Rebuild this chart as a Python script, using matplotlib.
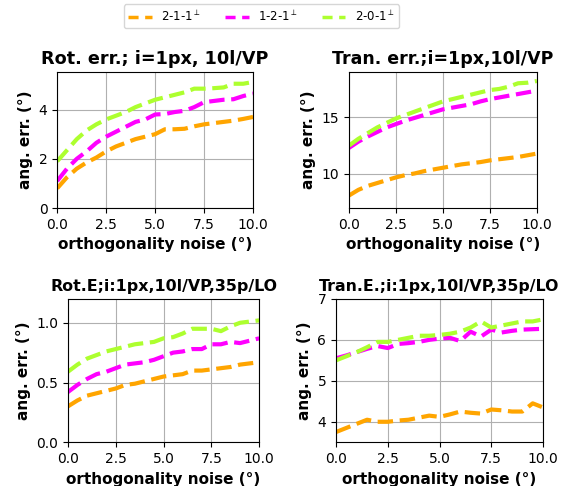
import numpy as np
import matplotlib.pyplot as plt

# orthogonality noise levels (deg)
noise = np.arange(0, 10.01, 0.5)

labels = [r'2-1-1$^\perp$', r'1-2-1$^\perp$', r'2-0-1$^\perp$']
colors = ['orange', 'magenta', 'greenyellow']

# Rot. err.; i=1px, 10l/VP
rot_211 = [0.80, 1.25, 1.60, 1.85, 2.05, 2.30, 2.50, 2.65, 2.80, 2.90, 3.00,
           3.20, 3.20, 3.22, 3.32, 3.40, 3.45, 3.50, 3.55, 3.62, 3.70]
rot_121 = [1.10, 1.60, 2.00, 2.30, 2.65, 2.90, 3.10, 3.30, 3.50, 3.60, 3.80,
           3.82, 3.90, 3.95, 4.10, 4.30, 4.35, 4.40, 4.42, 4.55, 4.65]
rot_201 = [1.90, 2.35, 2.80, 3.15, 3.40, 3.60, 3.75, 3.90, 4.10, 4.25, 4.40,
           4.50, 4.60, 4.70, 4.85, 4.85, 4.87, 4.90, 5.05, 5.05, 5.12]

# Tran. err.;i=1px,10l/VP
tran_211 = [8.10, 8.60, 8.95, 9.20, 9.45, 9.70, 9.90, 10.05, 10.25, 10.40, 10.55,
            10.70, 10.85, 10.95, 11.05, 11.20, 11.30, 11.40, 11.50, 11.65, 11.80]
tran_121 = [12.30, 12.85, 13.30, 13.70, 14.10, 14.40, 14.70, 14.95, 15.20, 15.45, 15.70,
            15.85, 16.00, 16.15, 16.40, 16.60, 16.75, 16.90, 17.05, 17.20, 17.35]
tran_201 = [12.50, 13.10, 13.60, 14.10, 14.50, 14.90, 15.20, 15.50, 15.80, 16.10, 16.40,
            16.60, 16.80, 17.00, 17.20, 17.40, 17.50, 17.70, 18.00, 18.05, 18.20]

# Rot.E;i:1px,10l/VP,35p/LO
rot2_211 = [0.30, 0.35, 0.39, 0.41, 0.43, 0.45, 0.48, 0.49, 0.51, 0.53, 0.55,
            0.56, 0.57, 0.60, 0.60, 0.61, 0.62, 0.63, 0.65, 0.66, 0.67]
rot2_121 = [0.42, 0.48, 0.53, 0.57, 0.59, 0.62, 0.65, 0.66, 0.67, 0.69, 0.72,
            0.75, 0.76, 0.78, 0.78, 0.82, 0.82, 0.84, 0.83, 0.85, 0.87]
rot2_201 = [0.59, 0.65, 0.70, 0.73, 0.76, 0.78, 0.80, 0.82, 0.83, 0.84, 0.87,
            0.88, 0.91, 0.95, 0.95, 0.95, 0.93, 0.97, 1.00, 1.01, 1.02]

# Tran.E.;i:1px,10l/VP,35p/LO
tran2_211 = [3.75, 3.85, 3.95, 4.05, 4.00, 4.00, 4.03, 4.05, 4.10, 4.15, 4.12,
             4.18, 4.25, 4.22, 4.20, 4.30, 4.28, 4.25, 4.25, 4.45, 4.35]
tran2_121 = [5.55, 5.62, 5.70, 5.78, 5.85, 5.80, 5.90, 5.92, 5.95, 6.00, 6.03,
             6.05, 5.97, 6.20, 6.08, 6.25, 6.18, 6.22, 6.25, 6.26, 6.27]
tran2_201 = [5.50, 5.60, 5.70, 5.82, 5.95, 5.95, 6.00, 6.05, 6.10, 6.10, 6.12,
             6.15, 6.20, 6.30, 6.45, 6.30, 6.35, 6.40, 6.45, 6.45, 6.50]

panels = [
    ('Rot. err.; i=1px, 10l/VP', [rot_211, rot_121, rot_201], (0, 5.53), [0, 2, 4],
     12.7, [0.102, 0.572, 0.349, 0.28]),
    ('Tran. err.;i=1px,10l/VP', [tran_211, tran_121, tran_201], (7, 19), [10, 15],
     12.5, [0.622, 0.572, 0.335, 0.28]),
    ('Rot.E;i:1px,10l/VP,35p/LO', [rot2_211, rot2_121, rot2_201], (0, 1.2), [0, 0.5, 1.0],
     11.4, [0.121, 0.09, 0.341, 0.295]),
    ('Tran.E.;i:1px,10l/VP,35p/LO', [tran2_211, tran2_121, tran2_201], (3.5, 7), [4, 5, 6, 7],
     11.3, [0.599, 0.09, 0.369, 0.295]),
]

fig = plt.figure(figsize=(5.61, 4.86), dpi=100)

for title, series, ylim, yticks, tsize, rect in panels:
    ax = fig.add_axes(rect)
    for y, c, lab in zip(series, colors, labels):
        ax.plot(noise, y, '--', color=c, lw=3, label=lab)
    ax.set_xlim(0, 10)
    ax.set_ylim(*ylim)
    ax.set_xticks([0, 2.5, 5, 7.5, 10])
    ax.set_yticks(yticks)
    ax.grid(True)
    ax.set_title(title, fontsize=tsize, fontweight='bold')
    ax.set_xlabel('orthogonality noise (°)', fontsize=11, fontweight='bold')
    ax.set_ylabel('ang. err. (°)', fontsize=11, fontweight='bold')
    ax.tick_params(labelsize=10)

handles, labs = ax.get_legend_handles_labels()
leg = fig.legend(handles, labs, loc='upper center', ncol=3, bbox_to_anchor=(0.466, 1.003),
                 fontsize=8.5)
for ln in leg.get_lines():
    ln.set_linewidth(2.5)
    ln.set_dashes([2.9, 1.9])

plt.savefig('out.png', dpi=100)
